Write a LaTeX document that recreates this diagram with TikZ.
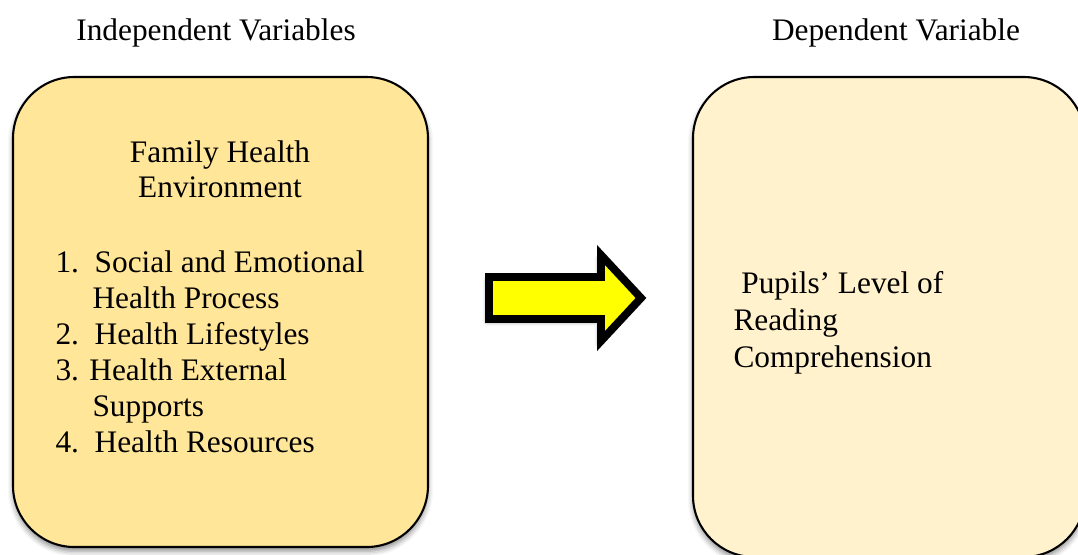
\documentclass[tikz,border=0pt]{standalone}
\usepackage{fontspec}
\setmainfont{Liberation Serif}
\usetikzlibrary{positioning,shadows.blur}
\definecolor{ivfill}{HTML}{FFE699}
\definecolor{dvfill}{HTML}{FFF2CC}
\definecolor{arrowyellow}{HTML}{FFFF00}
\tikzset{
  font=\fontsize{12pt}{13.8pt}\selectfont,
  varbox/.style={draw=black,line width=0.8pt,rounded corners=23.5pt,
                 inner sep=0pt,
                 blur shadow={shadow xshift=0pt,shadow yshift=-1.6pt,
                              shadow blur radius=2pt,shadow opacity=45}},
  heading/.style={anchor=base,inner sep=0pt},
  txt/.style={anchor=base west,inner sep=0pt},
  bigarrow/.style={draw=black,fill=arrowyellow,line width=3pt,line join=miter,
                   blur shadow={shadow xshift=-1pt,shadow yshift=-1.2pt,
                                shadow blur radius=1.5pt,shadow opacity=40}},
}
\begin{document}
\begin{tikzpicture}[x=0.383pt,y=-0.383pt]
  \useasboundingbox (0,0) rectangle (1078,554);

  % column headings
  \node[heading] (ivhead) at (216,40) {Independent Variables};
  \node[heading] (dvhead) at (896,40) {Dependent Variable};

  % the two boxes
  \node[varbox,fill=ivfill,minimum width=415*0.383pt,minimum height=470*0.383pt]
    (iv) at (220.5,312) {};
  \node[varbox,fill=dvfill,minimum width=392*0.383pt,minimum height=480*0.383pt]
    (dv) at (889,317) {};

  % independent variables
  \node[heading] (fhe1) at (220,162) {Family Health};
  \node[heading] (fhe2) at (220,197) {Environment};
  \foreach \x/\y/\txt [count=\i] in {
      55/272/{1.\ \ Social and Emotional},
      92/308/{Health Process},
      55/344/{2.\ \ Health Lifestyles},
      55/380/{3. Health External},
      92/416/{Supports},
      55/452/{4.\ \ Health Resources}}{
    \node[txt] (item\i) at (\x,\y) {\txt};
  }

  % dependent variable
  \node[txt] (pl1) at (733,293) {\ Pupils’ Level of};
  \node[txt] (pl2) at (733,330) {Reading};
  \node[txt] (pl3) at (733,367) {Comprehension};

  % big block arrow
  \draw[bigarrow] (489,277) -- (601,277) -- (601,255) -- (641,298)
    -- (601,341) -- (601,319) -- (489,319) -- cycle;
\end{tikzpicture}
\end{document}
